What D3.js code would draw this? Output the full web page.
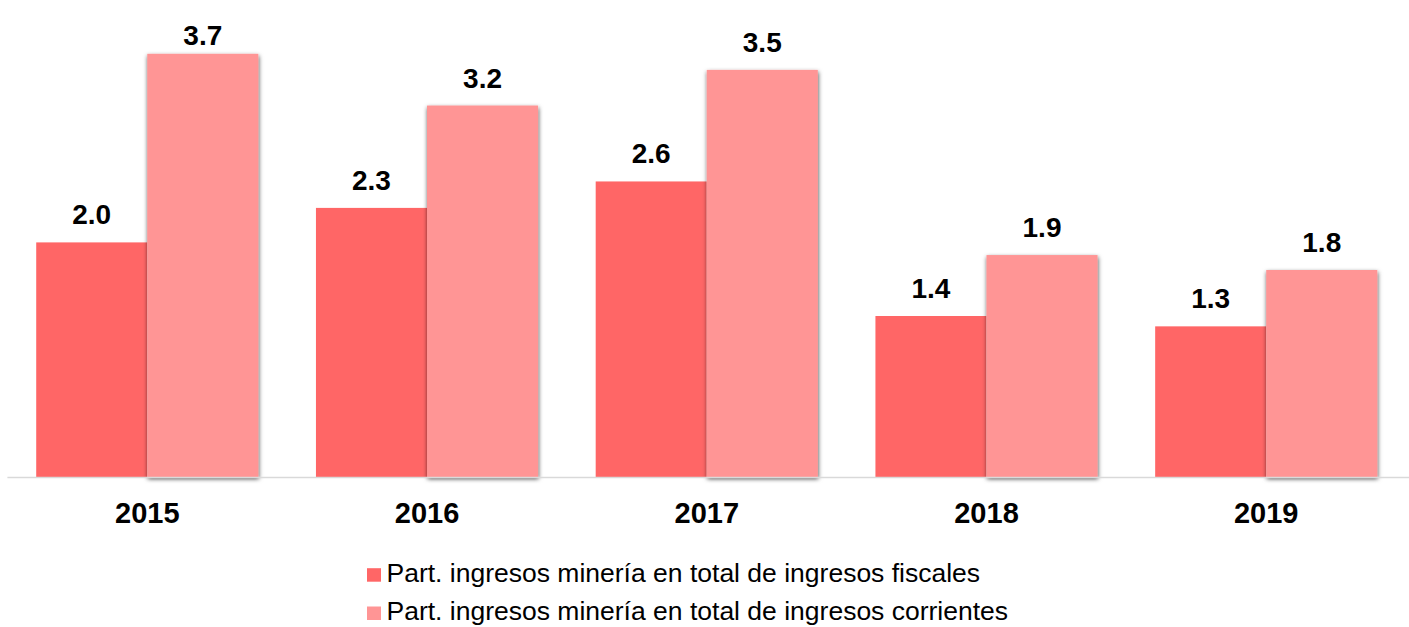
<!DOCTYPE html>
<html>
<head>
<meta charset="utf-8">
<script src="https://cdn.jsdelivr.net/npm/d3@7"></script>
<style>
  html, body { margin: 0; padding: 0; background: #fff; }
  svg { display: block; font-family: "Liberation Sans", Arial, sans-serif; }
</style>
</head>
<body>
<svg id="chart" width="1409" height="627"></svg>
<script>
const years = ["2015", "2016", "2017", "2018", "2019"];
const fiscales = [2.04, 2.34, 2.57, 1.40, 1.31];
const corrientes = [3.68, 3.23, 3.54, 1.93, 1.80];
const seriesNames = [
  "Part. ingresos minería en total de ingresos fiscales",
  "Part. ingresos minería en total de ingresos corrientes"
];
const seriesKeys = ["fiscales", "corrientes"];
const colors = ["#ff6666", "#ff9595"];

const svg = d3.select("#chart");
const W = 1409, H = 627;

const defs = svg.append("defs");
const f = defs.append("filter").attr("id", "shadow")
  .attr("x", "-10%").attr("y", "-5%").attr("width", "120%").attr("height", "110%");
f.append("feDropShadow").attr("dx", 0.5).attr("dy", 2).attr("stdDeviation", 2.2)
  .attr("flood-color", "#000").attr("flood-opacity", 0.7);

const x0 = d3.scaleBand().domain(years).range([7.4, 1406.1])
  .paddingInner(0.206).paddingOuter(0.103);
const x1 = d3.scaleBand().domain(seriesKeys).range([0, x0.bandwidth()]);
const y = d3.scaleLinear().domain([0, 4]).range([477, 17]);

const data = years.map((yr, i) => ({ year: yr, fiscales: fiscales[i], corrientes: corrientes[i] }));
const fmt = d3.format(".1f");

seriesKeys.forEach((key, si) => {
  const g = svg.append("g").attr("class", "series-" + key);
  if (si === 1) g.attr("filter", "url(#shadow)");
  g.selectAll("rect").data(data).join("rect")
    .attr("x", d => x0(d.year) + x1(key))
    .attr("y", d => y(d[key]))
    .attr("width", x1.bandwidth())
    .attr("height", d => y(0) - y(d[key]))
    .attr("fill", colors[si]);
});

// axis baseline
const xAxis = d3.axisBottom(x0).tickSize(0).tickPadding(0);
const axG = svg.append("g").attr("transform", `translate(0,${y(0)})`).call(xAxis);
axG.select(".domain").attr("stroke", "#d9d9d9").attr("stroke-width", 1.5)
  .attr("d", `M${x0.range()[0]},0.5H${W}`);
axG.selectAll(".tick text")
  .attr("y", 45.5).attr("dy", null)
  .attr("font-size", 29).attr("font-weight", "bold").attr("fill", "#000")
  .attr("font-family", "'Liberation Sans', Arial, sans-serif");

// value labels
seriesKeys.forEach((key, si) => {
  svg.append("g").selectAll("text").data(data).join("text")
    .attr("x", d => x0(d.year) + x1(key) + x1.bandwidth() / 2)
    .attr("y", d => Math.max(y(d[key]) - 18, 45))
    .attr("text-anchor", "middle")
    .attr("font-size", 28).attr("font-weight", "bold").attr("fill", "#000")
    .text(d => fmt(d[key]));
});

// legend
const lg = svg.append("g").attr("transform", "translate(367,0)");
seriesNames.forEach((name, i) => {
  const base = 581.7 + i * 38.3;
  lg.append("rect").attr("x", 0).attr("y", base - 13.5).attr("width", 14).attr("height", 13.5)
    .attr("fill", colors[i]);
  lg.append("text").attr("x", 19.5).attr("y", base)
    .attr("font-size", 26.5).attr("fill", "#000").text(name);
});
</script>
</body>
</html>
